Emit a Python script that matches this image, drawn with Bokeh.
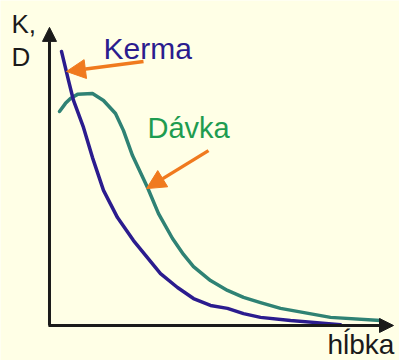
from bokeh.plotting import figure
from bokeh.models import Range1d, Arrow, NormalHead
from bokeh.core.properties import value
from bokeh.embed import file_html
from bokeh.resources import INLINE

# depth (arbitrary units) and relative values
kerma_depth = [0.349, 0.552, 0.698, 0.988, 1.25, 1.57, 1.977, 2.442, 3.227, 3.721,
               4.186, 4.68, 5.174, 5.64, 6.134, 7.006, 8.459]
kerma_value = [0.945, 0.845, 0.776, 0.683, 0.579, 0.466, 0.372, 0.293, 0.179, 0.131,
               0.093, 0.069, 0.059, 0.041, 0.028, 0.017, 0.003]

davka_depth = [0.291, 0.465, 0.610, 0.814, 1.25, 1.57, 1.919, 2.151, 2.413, 2.849,
               3.169, 3.576, 3.895, 4.186, 4.68, 5.174, 5.64, 6.134, 6.715, 8.169, 9.622]
davka_value = [0.738, 0.766, 0.783, 0.797, 0.800, 0.776, 0.731, 0.672, 0.586, 0.476,
               0.386, 0.300, 0.245, 0.203, 0.155, 0.121, 0.097, 0.079, 0.059, 0.028, 0.017]

y_label_lines = ["K,", "D"]
x_label = "hĺbka"
series_names = ["Kerma", "Dávka"]

BG = "#FFFFE6"
KERMA_C = "#2B1C8E"
DAVKA_C = "#2F8274"
DAVKA_TXT = "#1E9C50"
ORANGE = "#F07A1E"
AXIS_C = "#1A1A1A"
FONT = "Liberation Sans"

p = figure(width=399, height=360, output_backend="svg", toolbar_location=None,
           x_range=Range1d(-1.424, 10.174), y_range=Range1d(-0.1207, 1.1207),
           x_axis_type=None, y_axis_type=None, min_border=0)
p.background_fill_color = BG
p.border_fill_color = BG
p.outline_line_color = None
p.grid.visible = False

# axes with arrowheads
p.add_layout(Arrow(x_start=0, y_start=0, x_end=0, y_end=1.028,
                   line_color=AXIS_C, line_width=3,
                   end=NormalHead(size=14, fill_color=AXIS_C, line_color=AXIS_C)))
p.add_layout(Arrow(x_start=-0.03, y_start=0, x_end=10.0, y_end=0,
                   line_color=AXIS_C, line_width=3,
                   end=NormalHead(size=14, fill_color=AXIS_C, line_color=AXIS_C)))

# curves
p.line(davka_depth, davka_value, line_color=DAVKA_C, line_width=3.5,
       line_join="round", line_cap="round")
p.line(kerma_depth, kerma_value, line_color=KERMA_C, line_width=3.5,
       line_join="round", line_cap="round")

# orange pointer arrows
p.add_layout(Arrow(x_start=2.733, y_start=0.910, x_end=0.494, y_end=0.876,
                   line_color=ORANGE, line_width=3.5,
                   end=NormalHead(size=19, fill_color=ORANGE, line_color=ORANGE)))
p.add_layout(Arrow(x_start=4.622, y_start=0.603, x_end=2.820, y_end=0.472,
                   line_color=ORANGE, line_width=3.5,
                   end=NormalHead(size=19, fill_color=ORANGE, line_color=ORANGE)))

# labels
p.text(x=[1.57], y=[0.956], text=[series_names[0]], text_color=KERMA_C,
       text_font=value(FONT), text_font_size="30px", text_baseline="alphabetic")
p.text(x=[2.849], y=[0.680], text=[series_names[1]], text_color=DAVKA_TXT,
       text_font=value(FONT), text_font_size="29px", text_baseline="alphabetic")
p.text(x=[-1.105, -1.105], y=[1.040, 0.925], text=y_label_lines, text_color=AXIS_C,
       text_font=value(FONT), text_font_size="26px", text_baseline="alphabetic")
p.text(x=[8.081], y=[-0.066], text=[x_label], text_color=AXIS_C,
       text_font=value(FONT), text_font_size="28px", text_baseline="alphabetic")

open("out.html", "w").write(file_html(p, INLINE))
